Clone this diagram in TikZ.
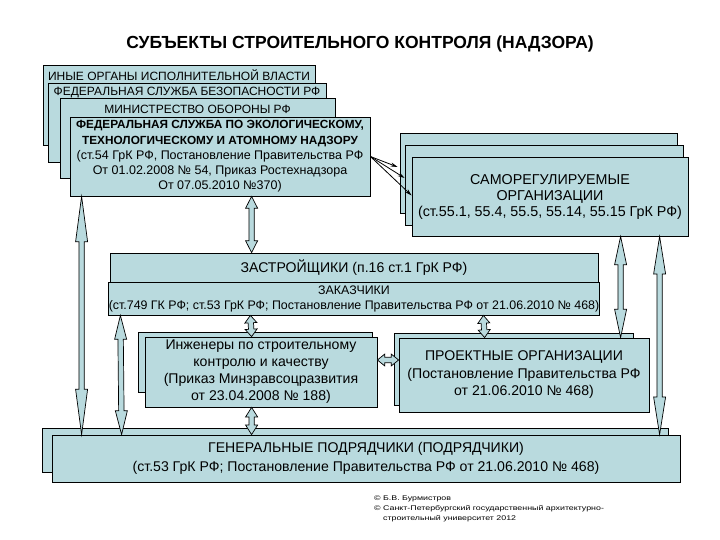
\documentclass[tikz,border=0pt]{standalone}
\usepackage{fontspec}
\setmainfont{Liberation Sans}
\newfontfamily\creditfont[FakeStretch=1.3]{Liberation Sans}
\usetikzlibrary{calc,arrows.meta,positioning}

\definecolor{boxfill}{RGB}{185,218,222}

\tikzset{
	box/.style={draw=black, line width=0.8pt, fill=boxfill, inner sep=0pt, align=center},
	boxtext/.style={align=center, inner sep=0pt},
	blockarrow/.style={draw=black, line width=0.7pt, fill=boxfill, line join=miter},
	thinarrow/.style={-{Stealth[length=7pt,width=4pt]}, line width=0.8pt},
}

% double block arrow between two named points
\newcommand{\dblarrow}[3][0.19]{%
	\draw[blockarrow] (#2)
	-- ($(#2)!#1!(#3)!6pt!90:(#3)$)
	-- ($(#2)!#1!(#3)!2.7pt!90:(#3)$)
	-- ($(#3)!#1!(#2)!2.7pt!-90:(#2)$)
	-- ($(#3)!#1!(#2)!6pt!-90:(#2)$)
	-- (#3)
	-- ($(#3)!#1!(#2)!6pt!90:(#2)$)
	-- ($(#3)!#1!(#2)!2.7pt!90:(#2)$)
	-- ($(#2)!#1!(#3)!2.7pt!-90:(#3)$)
	-- ($(#2)!#1!(#3)!6pt!-90:(#3)$)
	-- cycle;}

\begin{document}
\begin{tikzpicture}[x=1pt, y=-1pt]
	\useasboundingbox[fill=white] (0,0) rectangle (720,540);
	
	% Title
	\node[font=\bfseries\fontsize{17.5}{20}\selectfont] (title) at (360,44) {СУБЪЕКТЫ СТРОИТЕЛЬНОГО КОНТРОЛЯ (НАДЗОРА)};
	
	% Supervisory bodies (stack)
	\node[box, minimum width=272pt, minimum height=80pt] (org1) at (179,105) {};
	\node[boxtext, font=\fontsize{12}{14}\selectfont] (t1) at ($(org1.north)+(0,11)$) {ИНЫЕ ОРГАНЫ ИСПОЛНИТЕЛЬНОЙ ВЛАСТИ};
	\node[box, minimum width=278pt, minimum height=79pt] (org2) at (187,122.5) {};
	\node[boxtext, font=\fontsize{12}{14}\selectfont] (t2) at ($(org2.north)+(0,10)$) {ФЕДЕРАЛЬНАЯ СЛУЖБА БЕЗОПАСНОСТИ РФ};
	\node[box, minimum width=275pt, minimum height=80pt] (org3) at (197.5,138) {};
	\node[boxtext, font=\fontsize{12}{14}\selectfont] (t3) at ($(org3.north)+(0,12)$) {МИНИСТРЕСТВО ОБОРОНЫ РФ};
	\node[box, minimum width=300pt, minimum height=79pt, font=\fontsize{12.5}{15.3}\selectfont] (rtn) at (220,156.5)
		{{\fontsize{11.8}{15.3}\selectfont\bfseries ФЕДЕРАЛЬНАЯ СЛУЖБА ПО ЭКОЛОГИЧЕСКОМУ,}\\{\fontsize{11.8}{15.3}\selectfont\bfseries ТЕХНОЛОГИЧЕСКОМУ И АТОМНОМУ НАДЗОРУ}\\(ст.54 ГрК РФ, Постановление Правительства РФ\\От 01.02.2008 № 54, Приказ Ростехнадзора\\От 07.05.2010 №370)};
	
	% Self-regulating organisations (stack)
	\node[box, minimum width=277pt, minimum height=80pt] (sro1) at (538.5,173) {};
	\node[box, minimum width=278pt, minimum height=80pt] (sro2) at (544,185) {};
	\node[box, minimum width=276pt, minimum height=79pt, font=\fontsize{14.3}{16}\selectfont] (sro3) at (550,196.5)
		{САМОРЕГУЛИРУЕМЫЕ\\ОРГАНИЗАЦИИ\\(ст.55.1, 55.4, 55.5, 55.14, 55.15 ГрК РФ)};
	
	% Developers / customers
	\node[box, minimum width=488pt, minimum height=29pt, font=\fontsize{14.1}{16}\selectfont] (zastr) at (354,267.5) {ЗАСТРОЙЩИКИ (п.16 ст.1 ГрК РФ)};
	\node[box, minimum width=488pt, minimum height=33pt, font=\fontsize{12.4}{15}\selectfont] (zakaz) at (354,298.5)
		{ЗАКАЗЧИКИ\\(ст.749 ГК РФ; ст.53 ГрК РФ; Постановление Правительства РФ от 21.06.2010 № 468)};
	
	% Engineers
	\node[box, minimum width=234pt, minimum height=60pt] (ingb) at (255,362) {};
	\node[box, minimum width=232pt, minimum height=70pt, font=\fontsize{14.1}{17}\selectfont] (ingf) at (261,372)
		{Инженеры по строительному\\контролю и качеству\\(Приказ Минзравсоцразвития\\от 23.04.2008 № 188)};
	
	% Design organisations
	\node[box, minimum width=239pt, minimum height=72pt] (projb) at (513.5,369) {};
	\node[box, minimum width=250pt, minimum height=74pt, font=\fontsize{14.1}{17.5}\selectfont] (projf) at (524,375)
		{ПРОЕКТНЫЕ ОРГАНИЗАЦИИ\\(Постановление Правительства РФ\\от 21.06.2010 № 468)};
	
	% General contractors
	\node[box, minimum width=626pt, minimum height=44pt] (genb) at (355,450) {};
	\node[box, minimum width=628pt, minimum height=47pt, font=\fontsize{14.1}{19}\selectfont] (genf) at (366,458.5)
		{ГЕНЕРАЛЬНЫЕ ПОДРЯДЧИКИ (ПОДРЯДЧИКИ)\\(ст.53 ГрК РФ; Постановление Правительства РФ от 21.06.2010 № 468)};
	
	% Arrow end points
	\coordinate (a1s) at ($(rtn.south west)+(12,0)$);
	\coordinate (a1e) at ($(genf.north west)+(30,0)$);
	\coordinate (a2s) at ($(zakaz.south west)+(12,0)$);
	\coordinate (a2e) at ($(genf.north west)+(70,0)$);
	\coordinate (a3s) at ($(rtn.south west)+(182,0)$);
	\coordinate (a3e) at ($(zastr.north west)+(142,0)$);
	\coordinate (a4s) at ($(zakaz.south west)+(142,0)$);
	\coordinate (a4e) at ($(ingf.north west)+(107,0)$);
	\coordinate (a5s) at ($(ingf.south west)+(107,0)$);
	\coordinate (a5e) at ($(genf.north west)+(200,0)$);
	\coordinate (a6s) at ($(ingf.east)+(0,-12)$);
	\coordinate (a6e) at ($(projf.west)+(0,-15)$);
	\coordinate (a7s) at ($(zakaz.south west)+(375,0)$);
	\coordinate (a7e) at ($(projf.north west)+(86,0)$);
	\coordinate (a8s) at ($(sro3.south west)+(209,0)$);
	\coordinate (a8e) at ($(projf.north west)+(222,0)$);
	\coordinate (a9s) at ($(sro3.south west)+(248,0)$);
	\coordinate (a9e) at ($(genf.north west)+(608,0)$);
	
	% Block arrows
	\dblarrow{a1s}{a1e}
	\dblarrow[0.2]{a2s}{a2e}
	\dblarrow[0.21]{a3s}{a3e}
	\dblarrow[0.35]{a4s}{a4e}
	\dblarrow[0.35]{a5s}{a5e}
	\dblarrow[0.35]{a6s}{a6e}
	\dblarrow[0.35]{a7s}{a7e}
	\dblarrow[0.28]{a8s}{a8e}
	\dblarrow{a9s}{a9e}
	
	% Thin arrows to the SRO stack
	\draw[thinarrow] (rtn.east) -- ($(sro1.west)+(-2,-6)$);
	\draw[thinarrow] (rtn.east) -- ($(sro2.west)+(0,-7)$);
	\draw[thinarrow] (rtn.east) -- ($(sro3.west)+(0,-1)$);
	
	% Credits
	\node[anchor=north west, align=left, inner sep=0pt, font=\creditfont\fontsize{6.8}{10}\selectfont] (credit) at (374,496)
		{© Б.В. Бурмистров\\© Санкт-Петербургский государственный архитектурно-\\\phantom{© }строительный университет 2012};
\end{tikzpicture}
\end{document}
